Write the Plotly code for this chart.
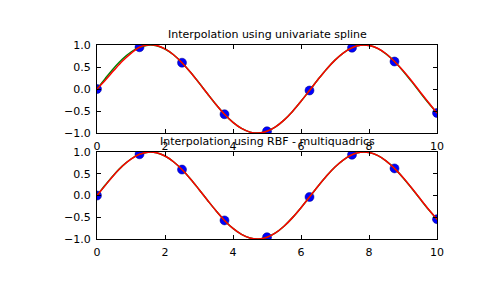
import plotly.graph_objects as go
from plotly.subplots import make_subplots

# sample points
x_pts = [0, 1.25, 2.5, 3.75, 5, 6.25, 7.5, 8.75, 10]
y_pts = [0.0, 0.949, 0.598, -0.572, -0.959, -0.033, 0.938, 0.625, -0.544]

# fine grid
x_fine = [0, 0.25, 0.5, 0.75, 1, 1.25, 1.5, 1.75, 2, 2.25, 2.5, 2.75, 3, 3.25, 3.5,
          3.75, 4, 4.25, 4.5, 4.75, 5, 5.25, 5.5, 5.75, 6, 6.25, 6.5, 6.75, 7, 7.25,
          7.5, 7.75, 8, 8.25, 8.5, 8.75, 9, 9.25, 9.5, 9.75, 10]
# true curve (green)
y_true = [0.0, 0.247, 0.479, 0.682, 0.841, 0.949, 0.997, 0.984, 0.909, 0.778, 0.598,
          0.382, 0.141, -0.108, -0.351, -0.572, -0.757, -0.895, -0.978, -0.999, -0.959,
          -0.859, -0.706, -0.508, -0.279, -0.033, 0.215, 0.451, 0.657, 0.823, 0.938,
          0.995, 0.989, 0.923, 0.798, 0.625, 0.412, 0.174, -0.075, -0.319, -0.544]
# univariate spline (red, top)
y_spline = [0.0, 0.205, 0.425, 0.635, 0.810, 0.949, 1.0, 0.99, 0.912, 0.779, 0.598,
            0.381, 0.140, -0.108, -0.350, -0.572, -0.757, -0.895, -0.978, -0.999, -0.959,
            -0.859, -0.706, -0.508, -0.279, -0.033, 0.215, 0.451, 0.657, 0.823, 0.938,
            0.996, 0.991, 0.926, 0.802, 0.625, 0.420, 0.188, -0.060, -0.305, -0.544]
# RBF multiquadric (red, bottom)
y_rbf = [0.0, 0.240, 0.475, 0.680, 0.840, 0.949, 0.998, 0.985, 0.910, 0.778, 0.598,
         0.382, 0.141, -0.108, -0.351, -0.572, -0.757, -0.895, -0.978, -0.999, -0.959,
         -0.859, -0.706, -0.508, -0.279, -0.033, 0.215, 0.451, 0.657, 0.823, 0.938,
         0.995, 0.990, 0.924, 0.800, 0.625, 0.414, 0.178, -0.070, -0.315, -0.544]

titles = ["Interpolation using univariate spline", "Interpolation using RBF - multiquadrics"]

fig = make_subplots(rows=2, cols=1, vertical_spacing=0.098)

for row, y_red in [(1, y_spline), (2, y_rbf)]:
    fig.add_trace(go.Scatter(x=x_pts, y=y_pts, mode="markers",
                             marker=dict(color="#0000ff", size=9,
                                         line=dict(color="#000080", width=0.5)),
                             showlegend=False), row=row, col=1)
    fig.add_trace(go.Scatter(x=x_fine, y=y_true, mode="lines", line_shape="spline",
                             line=dict(color="#008000", width=1.5),
                             showlegend=False), row=row, col=1)
    fig.add_trace(go.Scatter(x=x_fine, y=y_red, mode="lines", line_shape="spline",
                             line=dict(color="#ff0000", width=1.5),
                             showlegend=False), row=row, col=1)

axis_common = dict(showline=True, linecolor="black", linewidth=1, mirror="ticks",
                   ticks="inside", ticklen=4, tickcolor="black", showgrid=False,
                   zeroline=False, ticklabelstandoff=3,
                   tickfont=dict(family="DejaVu Sans", size=11, color="black"))

fig.update_xaxes(range=[0, 10], tickvals=[0, 2, 4, 6, 8, 10], **axis_common)
fig.update_yaxes(range=[-1, 1], tickvals=[-1, -0.5, 0, 0.5, 1], tickformat=".1f", **axis_common)

fig.update_layout(
    width=485, height=300,
    margin=dict(l=97, r=48, t=45, b=61),
    plot_bgcolor="white", paper_bgcolor="white",
    yaxis=dict(domain=[0.546, 1.0]),
    yaxis2=dict(domain=[0.0, 0.448]),
)

fig.add_annotation(text=titles[0], xref="paper", yref="paper", x=0.5, y=1.0,
                   yanchor="bottom", yshift=2, showarrow=False,
                   font=dict(family="DejaVu Sans", size=11, color="black"))
fig.add_annotation(text=titles[1], xref="paper", yref="paper", x=0.5, y=0.448,
                   yanchor="bottom", yshift=2, showarrow=False,
                   font=dict(family="DejaVu Sans", size=11, color="black"))

fig.write_html("out.html")
